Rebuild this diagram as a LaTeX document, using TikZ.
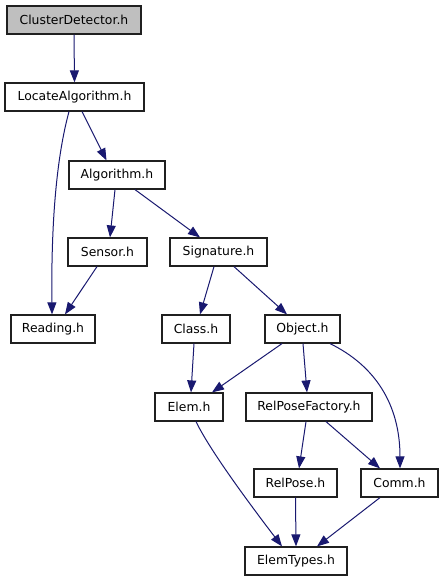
\documentclass[tikz,border=0pt]{standalone}
\usepackage{fontspec}
\setmainfont{DejaVu Sans}
\usetikzlibrary{arrows.meta}
\definecolor{edgeblue}{HTML}{191970}
\definecolor{cdgray}{HTML}{BFBFBF}
\definecolor{boxline}{HTML}{202020}
\tikzset{
  filebox/.style={draw=boxline, line width=1.2pt, fill=white, minimum height=28pt, inner sep=0pt,
    font=\fontsize{12.4}{14}\selectfont, text=black},
  dep/.style={draw=edgeblue, line width=1pt, -{Triangle[length=12pt,width=9pt]}, fill=none},
}
\begin{document}
\begin{tikzpicture}[x=1pt,y=-1pt]
\useasboundingbox[fill=white] (0,0) rectangle (444,581);
\node[filebox, fill=cdgray, minimum width=134pt] (cd) at (74,20) {ClusterDetector.h};
\node[filebox, minimum width=139pt] (loc) at (74.5,97) {LocateAlgorithm.h};
\node[filebox, minimum width=96pt] (alg) at (117,175) {Algorithm.h};
\node[filebox, minimum width=79pt] (sensor) at (107.5,252) {Sensor.h};
\node[filebox, minimum width=97pt] (sig) at (218.5,252) {Signature.h};
\node[filebox, minimum width=84pt] (reading) at (53,329) {Reading.h};
\node[filebox, minimum width=68pt] (class) at (196,329) {Class.h};
\node[filebox, minimum width=75pt] (object) at (302.5,329) {Object.h};
\node[filebox, minimum width=68pt] (elem) at (189,407) {Elem.h};
\node[filebox, minimum width=126pt] (rpf) at (309,407) {RelPoseFactory.h};
\node[filebox, minimum width=83pt] (relpose) at (295.5,483) {RelPose.h};
\node[filebox, minimum width=77pt] (comm) at (399.5,483) {Comm.h};
\node[filebox, minimum width=102pt] (elemtypes) at (296,561) {ElemTypes.h};

\draw[dep] (cd.south) -- (loc.north);
\draw[dep] ([xshift=-5.5pt]loc.south) .. controls +(-12,44) and +(-1,-95) .. ([xshift=-1pt]reading.north);
\draw[dep] ([xshift=7.5pt]loc.south) -- ([xshift=-10.5pt]alg.north);
\draw[dep] ([xshift=-2pt]alg.south) -- ([xshift=2.5pt]sensor.north);
\draw[dep] ([xshift=18pt]alg.south) -- ([xshift=-18.5pt]sig.north);
\draw[dep] ([xshift=-10.5pt]sensor.south) -- ([xshift=12pt]reading.north);
\draw[dep] ([xshift=-4.5pt]sig.south) -- ([xshift=4pt]class.north);
\draw[dep] ([xshift=15.5pt]sig.south) -- ([xshift=-15.5pt]object.north);
\draw[dep] ([xshift=-2pt]class.south) -- ([xshift=2pt]elem.north);
\draw[dep] ([xshift=-20.5pt]object.south) -- ([xshift=23pt]elem.north);
\draw[dep] ([xshift=0.5pt]object.south) -- ([xshift=-2pt]rpf.north);
\draw[dep] ([xshift=27.5pt]object.south) .. controls +(45,22) and +(0,-64) .. ([xshift=0.5pt]comm.north);
\draw[dep] ([xshift=7pt]elem.south) .. controls +(14,29) and +(-32,-42) .. ([xshift=-14pt]elemtypes.north);
\draw[dep] ([xshift=-3pt]rpf.south) -- ([xshift=3.5pt]relpose.north);
\draw[dep] ([xshift=17pt]rpf.south) -- ([xshift=-19.5pt]comm.north);
\draw[dep] (relpose.south) -- (elemtypes.north);
\draw[dep] ([xshift=-19.5pt]comm.south) -- ([xshift=21pt]elemtypes.north);
\end{tikzpicture}
\end{document}
